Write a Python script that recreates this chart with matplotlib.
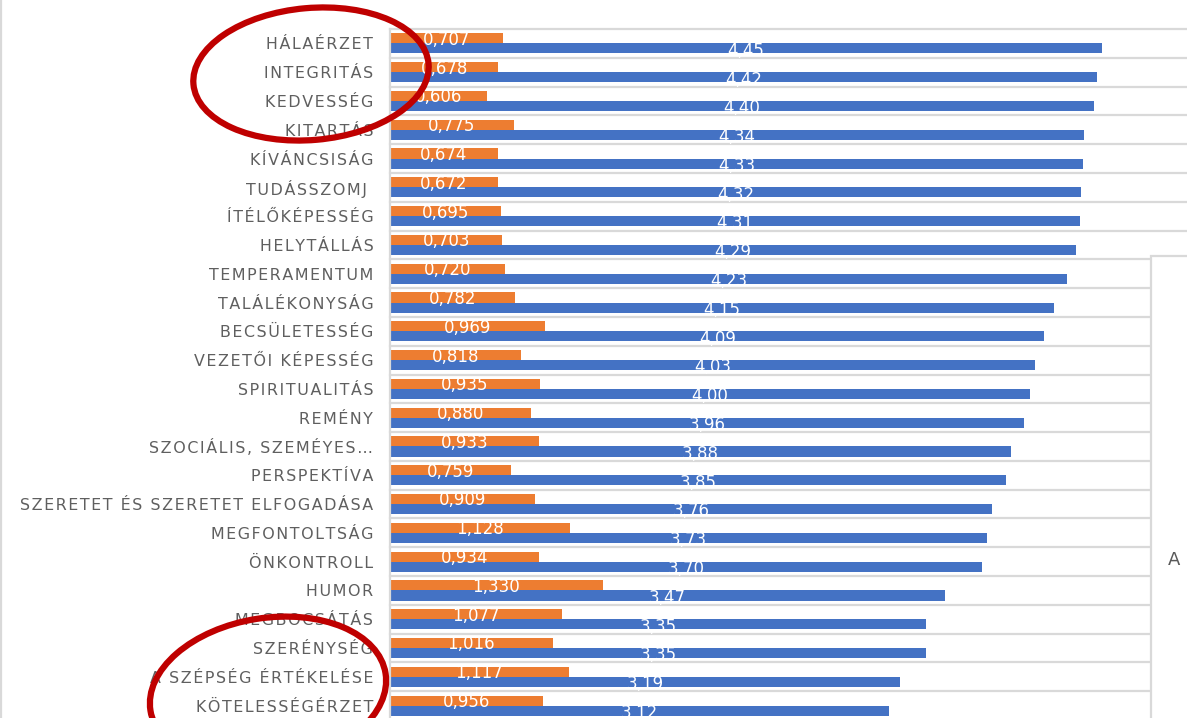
import numpy as np
import matplotlib.pyplot as plt
from matplotlib.patches import Ellipse, Rectangle

plt.rcParams['font.family'] = ['DejaVu Sans']

# category labels, top to bottom
categories = ['HÁLAÉRZET', 'INTEGRITÁS', 'KEDVESSÉG', 'KITARTÁS', 'KÍVÁNCSISÁG',
              'TUDÁSSZOMJ ', 'ÍTÉLŐKÉPESSÉG', 'HELYTÁLLÁS', 'TEMPERAMENTUM',
              'TALÁLÉKONYSÁG', 'BECSÜLETESSÉG', 'VEZETŐI KÉPESSÉG', 'SPIRITUALITÁS',
              'REMÉNY', 'SZOCIÁLIS, SZEMÉYES…', 'PERSPEKTÍVA',
              'SZERETET ÉS SZERETET ELFOGADÁSA', 'MEGFONTOLTSÁG', 'ÖNKONTROLL',
              'HUMOR', 'MEGBOCSÁTÁS', 'SZERÉNYSÉG', 'A SZÉPSÉG ÉRTÉKELÉSE',
              'KÖTELESSÉGÉRZET']
# orange series
szoras = [0.707, 0.678, 0.606, 0.775, 0.674, 0.672, 0.695, 0.703, 0.720, 0.782,
          0.969, 0.818, 0.935, 0.880, 0.933, 0.759, 0.909, 1.128, 0.934, 1.330,
          1.077, 1.016, 1.117, 0.956]
# blue series
atlag = [4.45, 4.42, 4.40, 4.34, 4.33, 4.32, 4.31, 4.29, 4.23, 4.15, 4.09, 4.03,
         4.00, 3.96, 3.88, 3.85, 3.76, 3.73, 3.70, 3.47, 3.35, 3.35, 3.19, 3.12]

W, H = 1187, 718
fig = plt.figure(figsize=(W / 100, H / 100), dpi=100)

# main plot area (bottom/right run slightly off the picture, as in the crop)
ax = fig.add_axes([390 / W, (H - 720) / H, 800 / W, 691 / H])
n = len(categories)
y = np.arange(n)
h = 0.35
ax.barh(y - h / 2, szoras, height=h, color='#ED7D31', zorder=2)
ax.barh(y + h / 2, atlag, height=h, color='#4472C4', zorder=2)
ax.set_xlim(0, 5)
ax.set_ylim(n - 0.5, -0.5)
for s in ax.spines.values():
    s.set_visible(False)
ax.set_xticks([])


def spaced(txt):
    # fake letter spacing with hair spaces
    return '\u200a'.join(txt)


ax.set_yticks(y)
ax.set_yticklabels([spaced(c) for c in categories])
ax.tick_params(axis='y', length=0, pad=12, colors='#5f5f5f', labelsize=11.4)

for b in np.arange(n + 1) - 0.5:
    ax.axhline(b, color='#D9D9D9', lw=1.6, zorder=1, clip_on=False)
ax.axvline(0, color='#D9D9D9', lw=1.6, zorder=3, clip_on=False)

# data labels
for i in range(n):
    ax.text(szoras[i] / 2, y[i] - h / 2 + 0.05, f'{szoras[i]:.3f}'.replace('.', ','),
            ha='center', va='center', color='white', fontsize=12, zorder=4)
    ax.text(atlag[i] / 2, y[i] + h / 2 + 0.08, f'{atlag[i]:.2f}'.replace('.', ','),
            ha='center', va='center', color='white', fontsize=12, zorder=4)

# overlay in pixel coords: border, cut-off legend box, red circles
ov = fig.add_axes([0, 0, 1, 1])
ov.set_xlim(0, W)
ov.set_ylim(H, 0)
ov.axis('off')
ov.patch.set_alpha(0)
ov.plot([1, 1], [0, H], color='#D9D9D9', lw=1.6)
ov.add_patch(Rectangle((1151, 256), 80, 500, facecolor='white', edgecolor='#D9D9D9', lw=1.6))
ov.text(1168, 560, 'A', color='#595959', fontsize=13, ha='left', va='center')
ov.add_patch(Ellipse((311, 74), 236, 132, angle=-5, fill=False, edgecolor='#BF0000', lw=4.5))
ov.add_patch(Ellipse((268, 692), 238, 148, angle=-9, fill=False, edgecolor='#BF0000', lw=4.5))

fig.savefig('out.png', dpi=100)
